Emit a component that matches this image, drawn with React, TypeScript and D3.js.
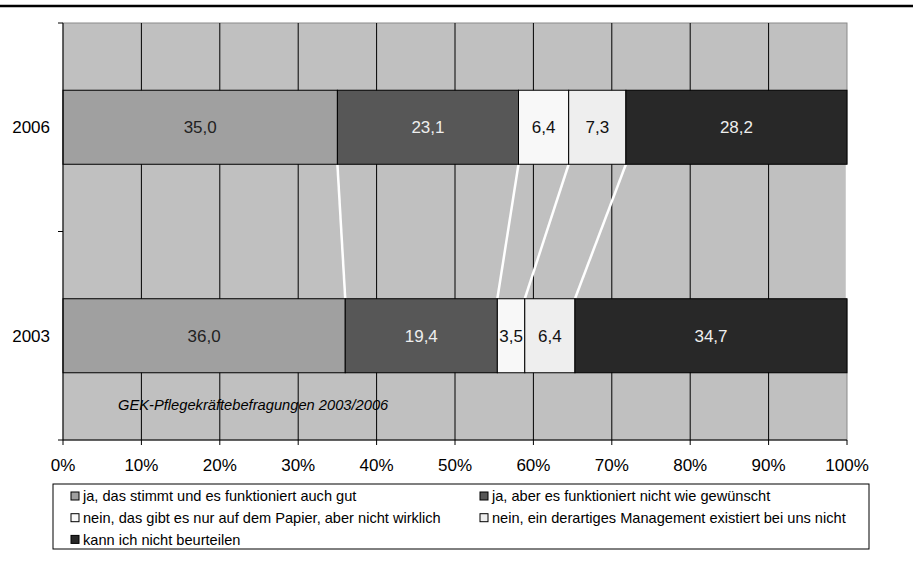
import React from "react";
import * as d3 from "d3";

const categories = ["2006", "2003"];
const seriesNames = [
  "ja, das stimmt und es funktioniert auch gut",
  "ja, aber es funktioniert nicht wie gewünscht",
  "nein, das gibt es nur auf dem Papier, aber nicht wirklich",
  "nein, ein derartiges Management existiert bei uns nicht",
  "kann ich nicht beurteilen",
];
const values2006 = [35.0, 23.1, 6.4, 7.3, 28.2];
const values2003 = [36.0, 19.4, 3.5, 6.4, 34.7];
const xTicks = [0, 10, 20, 30, 40, 50, 60, 70, 80, 90, 100];
const fills = ["#a0a0a0", "#575757", "#f8f8f8", "#eeeeee", "#282828"];
const labelColors = ["#222", "#eee", "#111", "#111", "#eee"];
const note = "GEK-Pflegekräftebefragungen 2003/2006";

const W = 913, H = 575;
const L = 63, R = 847, T = 23, B = 440;
const FONT = "'Liberation Sans', Arial, sans-serif";

export default function App() {
  const x = d3.scaleLinear().domain([0, 100]).range([L, R]);
  const y = d3.scaleBand().domain(categories).range([T, B]).padding(0);
  const barH = y.bandwidth() * 0.355;
  const data = { "2006": values2006, "2003": values2003 };
  const fmt = (v: number) => v.toFixed(1).replace(".", ",");

  const stacks = categories.map((c) => {
    const vals = data[c];
    let acc = 0;
    return vals.map((v, i) => {
      const s = { x0: acc, x1: acc + v, v, i };
      acc += v;
      return s;
    });
  });

  const top = stacks[0];
  const bot = stacks[1];
  const yTopBar = (c: string) => y(c)! + (y.bandwidth() - barH) / 2;

  const legendRows = [
    [0, 1],
    [2, 3],
    [4],
  ];

  return (
    <svg width={W} height={H} style={{ position: "absolute", left: 0, top: 0, background: "#fff" }} fontFamily={FONT}>
      <line x1={0} x2={W} y1={6} y2={6} stroke="#000" strokeWidth={2.5} />
      <rect x={L} y={T} width={R - L} height={B - T} fill="#c0c0c0" stroke="#8a8a8a" strokeWidth={1} />
      {xTicks.slice(1, -1).map((t) => (
        <line key={t} x1={x(t)} x2={x(t)} y1={T} y2={B} stroke="#000" strokeWidth={1} />
      ))}
      {/* connectors */}
      {top.map((s, i) => (
        <line
          key={"c" + i}
          x1={x(s.x1)}
          x2={x(bot[i].x1)}
          y1={yTopBar("2006") + barH}
          y2={yTopBar("2003")}
          stroke="#fff"
          strokeWidth={2.5}
        />
      ))}
      {categories.map((c, ci) =>
        stacks[ci].map((s) => (
          <g key={c + s.i}>
            <rect
              x={x(s.x0)}
              y={yTopBar(c)}
              width={x(s.x1) - x(s.x0)}
              height={barH}
              fill={fills[s.i]}
              stroke="#000"
              strokeWidth={1}
            />
            <text
              x={(x(s.x0) + x(s.x1)) / 2}
              y={yTopBar(c) + barH / 2}
              dy="0.35em"
              textAnchor="middle"
              fontSize={17}
              fill={labelColors[s.i]}
            >
              {fmt(s.v)}
            </text>
          </g>
        ))
      )}
      {/* axes */}
      <line x1={L} x2={L} y1={T} y2={B} stroke="#000" />
      <line x1={L} x2={R} y1={B} y2={B} stroke="#000" />
      {[T, y("2003")!, B].map((yy, i) => (
        <line key={"yt" + i} x1={L - 5} x2={L} y1={yy} y2={yy} stroke="#000" />
      ))}
      {xTicks.map((t) => (
        <g key={"xt" + t}>
          <line x1={x(t)} x2={x(t)} y1={B} y2={B + 5} stroke="#000" />
          <text x={x(t)} y={B + 25} dy="0.35em" textAnchor="middle" fontSize={17} fill="#000">
            {t}%
          </text>
        </g>
      ))}
      {categories.map((c) => (
        <text key={"cl" + c} x={50} y={y(c)! + y.bandwidth() / 2} dy="0.35em" textAnchor="end" fontSize={17} fill="#000">
          {c}
        </text>
      ))}
      <text x={118} y={405} dy="0.35em" fontSize={14.7} fontStyle="italic" fill="#000">
        {note}
      </text>
      {/* legend */}
      <rect x={53} y={484} width={816} height={65} fill="#fff" stroke="#000" strokeWidth={1} />
      {legendRows.map((row, ri) =>
        row.map((si, ci) => {
          const lx = ci === 0 ? 71 : 480;
          const ly = 496 + ri * 21.7;
          return (
            <g key={"lg" + si}>
              <rect x={lx} y={ly - 4} width={8} height={8} fill={fills[si]} stroke="#000" strokeWidth={1} />
              <text x={lx + 12} y={ly} dy="0.35em" fontSize={14.6} fill="#000">
                {seriesNames[si]}
              </text>
            </g>
          );
        })
      )}
    </svg>
  );
}
